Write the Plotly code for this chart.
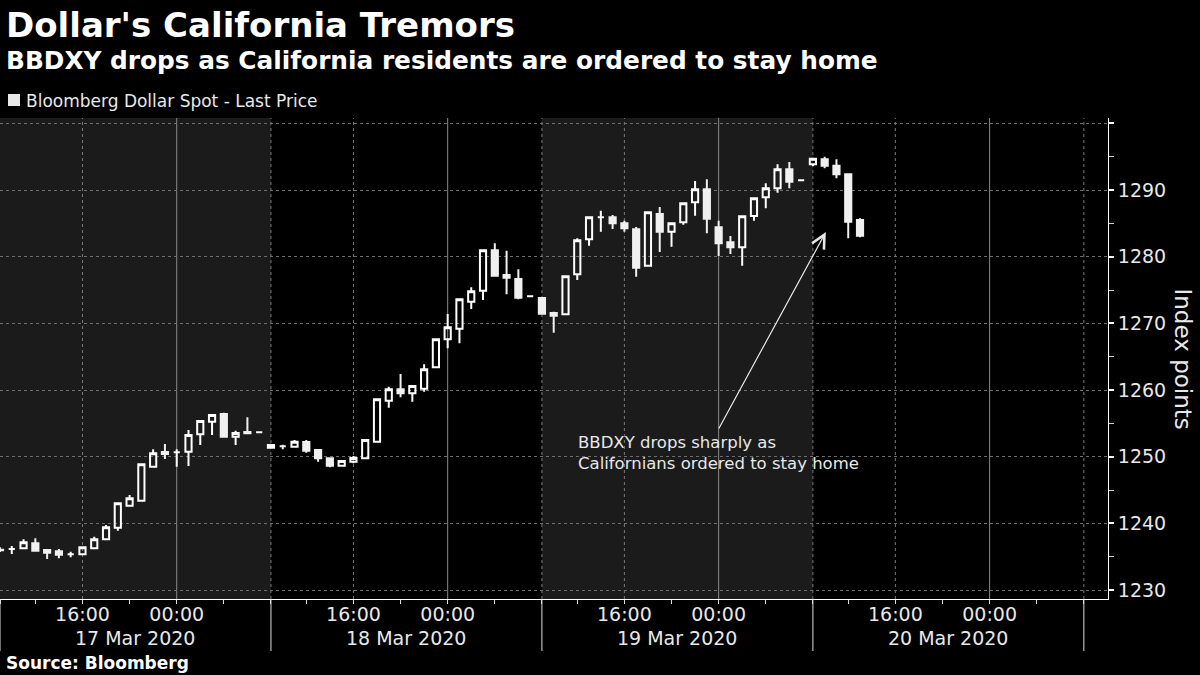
import plotly.graph_objects as go
import pandas as pd

# ---- data (hourly candles, BBDXY) ----
opens = [1236.05, 1236.15, 1236.25, 1237.0, 1236.0, 1235.8, 1235.35, 1235.35, 1236.25, 1237.6,
         1239.35, 1242.65, 1243.4, 1248.5, 1250.7, 1250.65, 1250.75, 1253.35, 1255.25, 1256.4,
         1253.0, 1253.7, 1253.65, 1251.35, 1251.55, 1251.5, 1252.2, 1251.0, 1249.75, 1248.65,
         1249.25, 1249.75, 1252.25, 1258.4, 1260.1, 1259.5, 1260.2, 1263.4, 1267.6, 1269.2,
         1273.25, 1274.9, 1280.95, 1277.25, 1276.65, 1274.05, 1273.8, 1271.55, 1271.35, 1277.35,
         1282.6, 1285.9, 1285.9, 1285.0, 1284.1, 1278.65, 1286.4, 1283.75, 1285.15, 1288.15,
         1290.1, 1284.4, 1282.15, 1281.4, 1286.1, 1288.9, 1290.25, 1293.1, 1291.45, 1293.85,
         1294.6, 1293.65, 1292.35, 1285.5]
highs = [1236.4, 1236.6, 1237.6, 1237.75, 1236.0, 1236.15, 1235.75, 1236.5, 1238.0, 1239.75,
         1243.0, 1244.25, 1248.85, 1251.1, 1251.9, 1251.1, 1254.0, 1255.35, 1256.25, 1256.6,
         1253.9, 1255.9, 1253.65, 1251.75, 1251.8, 1252.5, 1252.5, 1251.15, 1249.75, 1249.35,
         1250.1, 1252.5, 1258.6, 1260.5, 1262.4, 1260.6, 1263.85, 1267.6, 1271.4, 1273.75,
         1275.4, 1280.95, 1282.0, 1280.9, 1278.1, 1274.05, 1273.8, 1271.75, 1277.05, 1282.75,
         1285.9, 1286.9, 1286.25, 1285.4, 1284.45, 1286.65, 1287.45, 1285.0, 1288.0, 1291.35,
         1291.6, 1285.4, 1283.1, 1286.05, 1288.75, 1291.0, 1293.85, 1294.2, 1291.45, 1294.75,
         1295.0, 1294.6, 1292.35, 1285.75]
lows = [1235.7, 1235.4, 1236.25, 1235.75, 1234.65, 1234.75, 1234.9, 1235.35, 1236.25, 1237.6,
        1238.9, 1242.5, 1243.4, 1248.5, 1249.65, 1248.5, 1248.6, 1251.75, 1253.25, 1253.0,
        1251.75, 1253.5, 1253.65, 1251.35, 1251.1, 1251.5, 1250.6, 1249.25, 1248.4, 1248.65,
        1249.0, 1249.75, 1252.1, 1257.35, 1258.9, 1258.25, 1259.75, 1263.4, 1266.25, 1267.0,
        1272.15, 1273.5, 1277.15, 1274.35, 1273.6, 1274.05, 1271.45, 1268.6, 1271.2, 1276.5,
        1281.65, 1283.75, 1284.15, 1283.75, 1277.0, 1278.65, 1280.7, 1281.5, 1284.8, 1286.15,
        1283.5, 1280.1, 1280.4, 1278.65, 1285.4, 1287.25, 1289.6, 1290.25, 1291.45, 1293.6,
        1293.25, 1291.75, 1282.75, 1282.9]
closes = [1235.95, 1236.15, 1237.15, 1235.9, 1235.6, 1235.3, 1235.35, 1236.4, 1237.6, 1239.4,
          1243.0, 1243.75, 1248.85, 1250.5, 1250.4, 1250.65, 1253.25, 1255.35, 1256.25, 1253.0,
          1253.55, 1253.5, 1253.65, 1251.75, 1251.55, 1252.25, 1250.9, 1249.75, 1248.65, 1249.35,
          1249.8, 1252.5, 1258.6, 1260.1, 1259.5, 1260.6, 1263.1, 1267.6, 1269.4, 1273.6,
          1274.8, 1280.95, 1277.15, 1276.85, 1273.85, 1274.05, 1271.45, 1271.15, 1277.05, 1282.45,
          1285.9, 1285.9, 1285.0, 1284.25, 1278.35, 1286.65, 1283.75, 1285.0, 1288.0, 1290.1,
          1285.7, 1282.0, 1281.4, 1286.05, 1288.75, 1290.25, 1293.1, 1291.25, 1291.45, 1294.7,
          1293.65, 1292.35, 1285.25, 1283.15]

session_starts = ["2020-03-17 09:00", "2020-03-18 09:00", "2020-03-19 09:00",
                  "2020-03-20 09:00", "2020-03-21 09:00"]
day_labels = ["17 Mar 2020", "18 Mar 2020", "19 Mar 2020", "20 Mar 2020"]
day_centers = ["2020-03-17 20:30", "2020-03-18 20:30", "2020-03-19 20:30", "2020-03-20 20:30"]
tick_times = []
tick_text = []
for d in ["2020-03-17", "2020-03-18", "2020-03-19", "2020-03-20"]:
    nd = (pd.Timestamp(d) + pd.Timedelta(days=1)).strftime("%Y-%m-%d")
    tick_times += [f"{d} 09:00", f"{d} 12:00", f"{d} 16:00", f"{d} 20:00", f"{nd} 00:00", f"{nd} 04:00"]
    tick_text += ["", "", "16:00", "", "00:00", ""]
tick_times.append("2020-03-21 09:00")
tick_text.append("")
dash_grid = ["2020-03-17 16:00", "2020-03-18 09:00", "2020-03-18 16:00", "2020-03-19 09:00",
             "2020-03-19 16:00", "2020-03-20 09:00", "2020-03-20 16:00", "2020-03-21 09:00"]
solid_grid = ["2020-03-18 00:00", "2020-03-19 00:00", "2020-03-20 00:00", "2020-03-21 00:00"]
y_ticks = [1230, 1240, 1250, 1260, 1270, 1280, 1290, 1300]
y_text = ["1230", "1240", "1250", "1260", "1270", "1280", "1290", ""]

all_hours = pd.date_range("2020-03-17 09:00", "2020-03-21 12:00", freq="h")
times = [t for t in all_hours if t.hour != 8][:len(opens)]

# ---- layout geometry (pixels) ----
W, H = 1200, 675
L, R, T, B = 0, 92, 118, 76
PW, PH = W - L - R, H - T - B


def px(x):
    return (x - L) / PW


def py(y):
    return (H - B - y) / PH


FONT = "DejaVu Sans"
fig = go.Figure()
fig.add_trace(go.Candlestick(
    x=times, open=opens, high=highs, low=lows, close=closes,
    increasing=dict(line=dict(color="#ffffff", width=2), fillcolor="rgba(0,0,0,0)"),
    decreasing=dict(line=dict(color="#f0f0f0", width=2), fillcolor="#f0f0f0"),
    whiskerwidth=0, showlegend=False, hoverinfo="x+y",
))

shapes = []
for i in (0, 2):
    shapes.append(dict(type="rect", xref="x", yref="paper", x0=session_starts[i], x1=session_starts[i + 1],
                       y0=0, y1=1, fillcolor="#1b1b1b", line=dict(width=0), layer="below"))
for t in dash_grid:
    shapes.append(dict(type="line", xref="x", yref="paper", x0=t, x1=t, y0=0, y1=1,
                       line=dict(color="#7a7a7a", width=1, dash="3px,3px"), layer="below"))
for t in solid_grid:
    shapes.append(dict(type="line", xref="x", yref="paper", x0=t, x1=t, y0=0, y1=1,
                       line=dict(color="#8a8a8a", width=1), layer="below"))
for t in session_starts:
    shapes.append(dict(type="line", xref="x", yref="paper", x0=t, x1=t, y0=0, y1=py(651),
                       line=dict(color="#dddddd", width=1)))
shapes.append(dict(type="rect", xref="paper", yref="paper", x0=px(8), x1=px(20), y0=py(106), y1=py(94),
                   fillcolor="#e8e8e8", line=dict(width=0)))

annotations = [
    dict(text="Dollar's California Tremors", xref="paper", yref="paper", x=px(4), y=py(25),
         xanchor="left", yanchor="middle", showarrow=False,
         font=dict(family=FONT, size=34, color="#ffffff", weight="bold")),
    dict(text="BBDXY drops as California residents are ordered to stay home", xref="paper", yref="paper",
         x=px(4), y=py(60), xanchor="left", yanchor="middle", showarrow=False,
         font=dict(family=FONT, size=24.8, color="#ffffff", weight="bold")),
    dict(text="Bloomberg Dollar Spot - Last Price", xref="paper", yref="paper", x=px(24), y=py(100.5),
         xanchor="left", yanchor="middle", showarrow=False,
         font=dict(family=FONT, size=17, color="#e8e8e8")),
    dict(text="Source: Bloomberg", xref="paper", yref="paper", x=px(4), y=py(663),
         xanchor="left", yanchor="middle", showarrow=False,
         font=dict(family=FONT, size=17, color="#ffffff", weight="bold")),
    dict(text="Index points", xref="paper", yref="paper", x=px(1183), y=0.5, textangle=90,
         xanchor="center", yanchor="middle", showarrow=False,
         font=dict(family=FONT, size=23, color="#e8e8e8")),
    dict(text="BBDXY drops sharply as<br>Californians ordered to stay home", xref="paper", yref="paper",
         x=px(576), y=py(453), xanchor="left", yanchor="middle", align="left", showarrow=False,
         font=dict(family=FONT, size=16.5, color="#e8e8e8")),
    dict(text="", x="2020-03-20 10:06", y=1283.7, ax="2020-03-19 23:57", ay=1254.0,
         xref="x", yref="y", axref="x", ayref="y", showarrow=True,
         arrowhead=5, arrowsize=2.2, arrowwidth=1.2, arrowcolor="#e8e8e8"),
]
for lab, c in zip(day_labels, day_centers):
    annotations.append(dict(text=lab, xref="x", yref="paper", x=c, y=py(638), xanchor="center",
                            yanchor="middle", showarrow=False,
                            font=dict(family=FONT, size=19, color="#e8e8e8")))

fig.update_layout(
    width=W, height=H, margin=dict(l=L, r=R, t=T, b=B, autoexpand=False),
    paper_bgcolor="#000000", plot_bgcolor="#000000",
    boxgap=0.25,
    shapes=shapes, annotations=annotations, showlegend=False,
    xaxis=dict(type="date", range=["2020-03-17 09:00", "2020-03-21 11:03"],
               rangebreaks=[dict(bounds=[8, 9], pattern="hour")],
               rangeslider=dict(visible=False),
               tickmode="array", tickvals=tick_times, ticktext=tick_text,
               ticks="outside", ticklen=4, tickcolor="#dddddd", tickwidth=1,
               ticklabelstandoff=-6,
               showgrid=False, zeroline=False, showline=True, linecolor="#ffffff", linewidth=1,
               tickfont=dict(family=FONT, size=19, color="#e8e8e8"), automargin=False),
    yaxis=dict(side="right", range=[1228.65, 1300.8], tickmode="array", tickvals=y_ticks, ticktext=y_text,
               ticks="outside", ticklen=5, tickwidth=2, tickcolor="#ffffff",
               minor=dict(dtick=5, tick0=1225, ticks="outside", ticklen=5, tickcolor="#cccccc", tickwidth=1,
                          showgrid=False),
               showgrid=True, gridcolor="#6e6e6e", griddash="3px,3px", gridwidth=1,
               zeroline=False, showline=True, linecolor="#ffffff", linewidth=1,
               tickfont=dict(family=FONT, size=19, color="#e8e8e8"), automargin=False),
)
fig.write_html("out.html", config={"displayModeBar": False},
               post_script="document.body.style.margin='0';document.body.style.background='#000';")
